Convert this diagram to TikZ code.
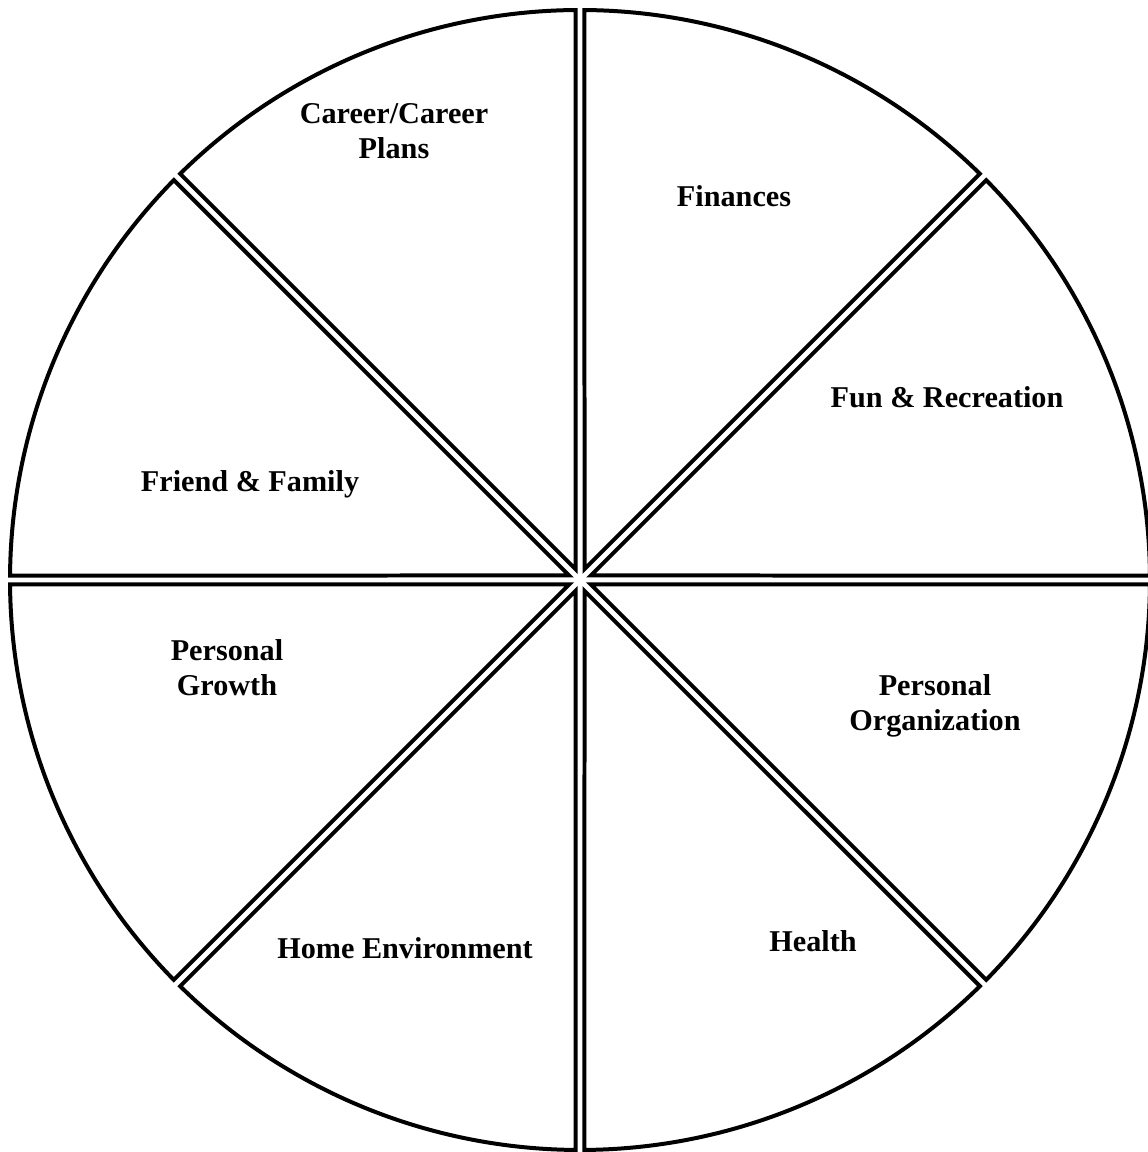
\documentclass[tikz,border=0pt]{standalone}
\usepackage{fontspec}
\setmainfont{Liberation Serif}
\usetikzlibrary{calc}

\begin{document}
\begin{tikzpicture}[x=0.02cm,y=0.02cm]
    \tikzset{wedge/.style={line width=0.08cm,line join=miter},
        area/.style={font=\bfseries\fontsize{17.2}{19.8}\selectfont,align=center}}
    \useasboundingbox (0,0) rectangle (1147,1152);
    \coordinate (O) at (580,572);
    % eight separate wedges with a small gap between them
    \foreach \a in {0,45,...,315}
        \draw[wedge] ($(O)+(\a+22.5:11.76)$) -- ($(O)+(\a+0.45:570)$)
            arc[start angle=\a+0.45,end angle=\a+44.55,radius=570] -- cycle;
    \node[area] (career) at (394,1021) {Career/Career\\Plans};
    \node[area] (finances) at (734,956) {Finances};
    \node[area] (fun) at (947,755) {Fun \& Recreation};
    \node[area] (friend) at (250,668) {Friend \& Family};
    \node[area] (growth) at (227,484) {Personal\\Growth};
    \node[area] (organization) at (935,446) {Personal\\Organization};
    \node[area] (home) at (405,204) {Home Environment};
    \node[area] (health) at (813,211) {Health};
\end{tikzpicture}
\end{document}
